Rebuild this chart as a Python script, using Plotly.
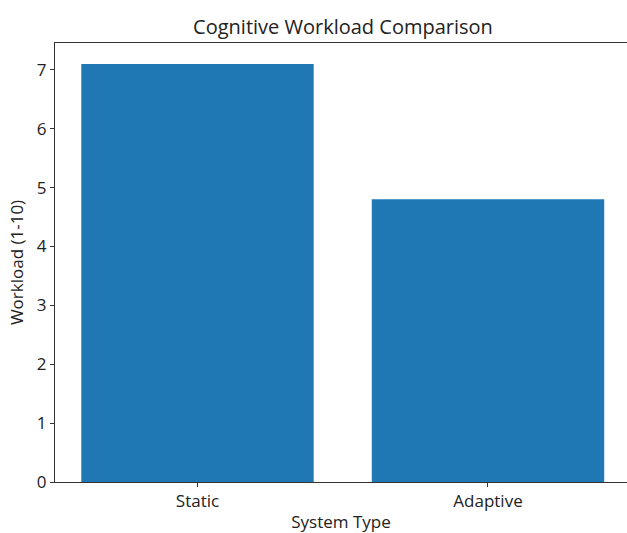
import plotly.graph_objects as go

categories = ["Static", "Adaptive"]
workload = [7.1, 4.8]
y_ticks = [0, 1, 2, 3, 4, 5, 6, 7]

fig = go.Figure(go.Bar(x=[0, 1], y=workload, width=0.8, marker_color="#1f77b4",
                       marker_line_width=0))

font = "Open Sans"
fig.update_layout(
    width=627, height=533,
    margin=dict(l=55, r=0, t=43, b=51),
    plot_bgcolor="white", paper_bgcolor="white",
    title=dict(text="Cognitive Workload Comparison", x=0.547, xanchor="center",
               y=1 - 27 / 533, yanchor="middle",
               font=dict(family=font, size=20, color="#222")),
    font=dict(family=font, size=17, color="#222"),
    showlegend=False,
)
fig.update_xaxes(
    range=[-0.4905, 1.4785], tickvals=[0, 1], ticktext=categories,
    showline=True, linecolor="#333", linewidth=1, mirror=True,
    ticks="outside", ticklen=4, tickcolor="#333", showgrid=False, zeroline=False,
    automargin=False,
    title=dict(text="System Type", font=dict(family=font, size=17), standoff=7),
    tickfont=dict(family=font, size=17),
)
fig.update_yaxes(
    range=[0, 7.455], tickvals=y_ticks,
    showline=True, linecolor="#333", linewidth=1, mirror=False,
    ticks="outside", ticklen=4, tickcolor="#333", showgrid=False, zeroline=False,
    automargin=False,
    title=dict(text="Workload (1-10)", font=dict(family=font, size=17), standoff=8),
    tickfont=dict(family=font, size=17),
)
fig.write_html("out.html", config={"displayModeBar": False},
               post_script="document.body.style.margin='0';")
